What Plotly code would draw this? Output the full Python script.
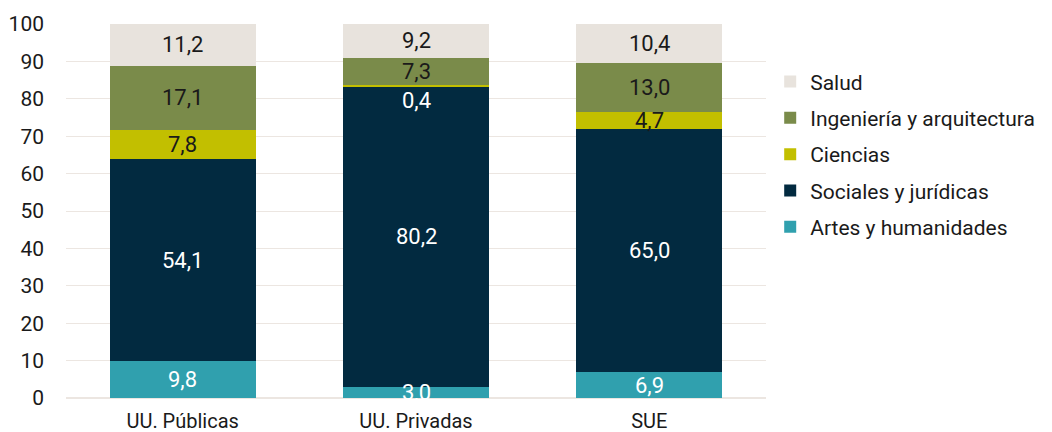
import plotly.graph_objects as go
import numpy as np

categories = ["UU. Públicas", "UU. Privadas", "SUE"]
series_names = ["Artes y humanidades", "Sociales y jurídicas", "Ciencias",
                "Ingeniería y arquitectura", "Salud"]
artes = [9.8, 3.0, 6.9]
sociales = [54.1, 80.2, 65.0]
ciencias = [7.8, 0.4, 4.7]
ingenieria = [17.1, 7.3, 13.0]
salud = [11.2, 9.2, 10.4]
y_ticks = [0, 10, 20, 30, 40, 50, 60, 70, 80, 90, 100]

values = [artes, sociales, ciencias, ingenieria, salud]
colors = ["#30a0ae", "#022a40", "#c2bf00", "#7a8b4a", "#e8e3dd"]
text_colors = ["white", "white", "#1a1a1a", "#1a1a1a", "#1a1a1a"]

FONT = "Roboto, sans-serif"

fig = go.Figure()
n = len(series_names)
for i, (name, vals) in enumerate(zip(series_names, values)):
    fig.add_trace(go.Bar(
        x=categories, y=vals, name=name, marker_color=colors[i],
        marker_line_width=0, legendgroup=name, legendrank=1000 + (n - i),
        hoverinfo="skip",
    ))

# labels centred in each segment
cum = np.zeros(len(categories))
for i, vals in enumerate(values):
    for j, v in enumerate(vals):
        ymid = cum[j] + v / 2
        shift = 0
        color = text_colors[i]
        if v < 1:
            shift = -14
            color = "white"
        fig.add_annotation(
            x=categories[j], y=ymid, text=f"{v:.1f}".replace(".", ","),
            showarrow=False, yshift=shift,
            font=dict(family=FONT, size=22, color=color),
        )
    cum += np.array(vals)

fig.update_layout(
    barmode="stack",
    bargap=0.373,
    width=1044, height=424,
    margin=dict(l=58, r=286, t=16, b=34, autoexpand=False),
    plot_bgcolor="white", paper_bgcolor="white",
    font=dict(family=FONT, size=21, color="#1a1a1a"),
    showlegend=True,
    legend=dict(
        traceorder="grouped", x=1.006, xanchor="left", y=0.90,
        yanchor="top",
        font=dict(family=FONT, size=21, color="#1a1a1a"),
        tracegroupgap=6, itemwidth=30,
    ),
    xaxis=dict(showgrid=False, showline=False, ticks="", automargin=False,
               tickfont=dict(size=20), ticklabelstandoff=9),
    yaxis=dict(range=[0, 100], tickvals=y_ticks, showgrid=True,
               gridcolor="#ece6e1", gridwidth=1, zeroline=True,
               zerolinecolor="#ece6e1", showline=False, ticks="",
               automargin=False,
               tickfont=dict(size=21), ticklabelstandoff=21),
)

fig.write_html("out.html")
